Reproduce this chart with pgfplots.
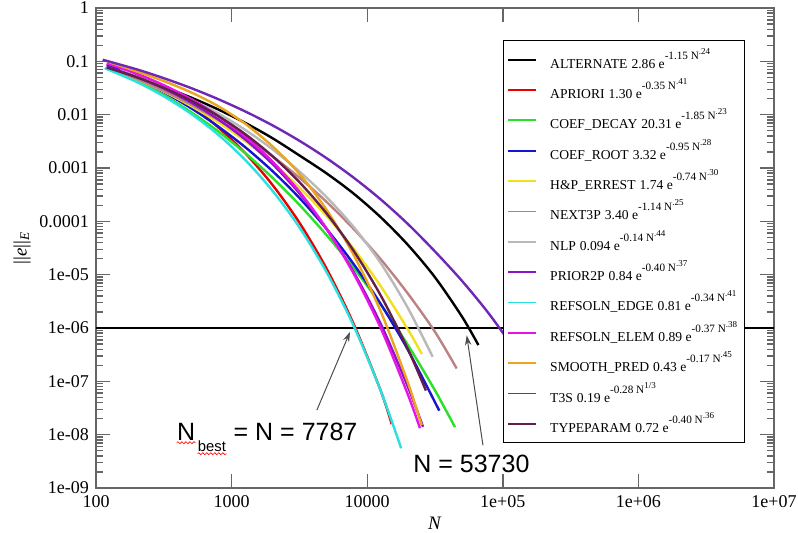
\documentclass[border=0pt]{standalone}
\usepackage{fontspec}
\setmainfont{Liberation Serif}
\newfontfamily\arial{Liberation Sans}
\usepackage{pgfplots}
\pgfplotsset{compat=1.18}
\usetikzlibrary{arrows.meta,decorations.pathmorphing}
\definecolor{cALT}{RGB}{0,0,0}
\definecolor{cAPR}{RGB}{235,0,0}
\definecolor{cCD}{RGB}{40,225,40}
\definecolor{cCR}{RGB}{20,20,210}
\definecolor{cHP}{RGB}{240,225,30}
\definecolor{cN3P}{RGB}{188,130,130}
\definecolor{cNLP}{RGB}{185,185,185}
\definecolor{cP2P}{RGB}{140,20,200}
\definecolor{cRE}{RGB}{40,225,225}
\definecolor{cRL}{RGB}{230,20,230}
\definecolor{cSP}{RGB}{235,165,30}
\definecolor{cT3S}{RGB}{110,40,180}
\definecolor{cTP}{RGB}{100,30,75}
\newcommand{\ent}[4]{#1\hspace{2pt}#2 e\raisebox{4.5pt}{\fontsize{5.6}{6}\selectfont #3 N\raisebox{2.5pt}{\fontsize{4.5}{5}\selectfont #4}}}
\begin{document}
\begin{tikzpicture}
\path[use as bounding box] (-48pt,-22.5pt) rectangle (351pt,244pt);
\begin{axis}[
  scale only axis, width=339pt, height=240pt,
  at={(0,0)}, anchor=south west,
  clip mode=individual,
  xmode=log, ymode=log,
  xmin=100, xmax=1e7, ymin=1e-9, ymax=1,
  xtick={100,1000,10000,100000,1000000,10000000},
  xticklabels={100,1000,10000,1e+05,1e+06,1e+07},
  ytick={1e-9,1e-8,1e-7,1e-6,1e-5,1e-4,1e-3,1e-2,1e-1,1},
  yticklabels={1e-09,1e-08,1e-07,1e-06,1e-05,0.0001,0.001,0.01,0.1,1},
  xminorticks=false,
  tick align=inside,
  major tick length=7pt, minor tick length=3.5pt,
  tick style={black!60, line width=0.7pt},
  axis line style={black!60, line width=1pt},
  ticklabel style={font=\fontsize{9}{10}\selectfont},
  xlabel={\textit{N}},
  ylabel={\textbar\textbar\textit{e}\textbar\textbar\textsubscript{\textit{E}}},
  label style={font=\fontsize{9.5}{11}\selectfont},
  xlabel style={at={(axis description cs:0.5,0)}, anchor=center, yshift=-17.5pt},
  ylabel style={at={(axis description cs:-0.109,0.5)}, anchor=center},
  legend cell align=left,
  legend style={at={(rel axis cs:0.600,0.933)}, anchor=north west, draw=black,
    line width=0.6pt, fill=white, font=\fontsize{6.8}{8}\selectfont,
    inner xsep=2pt, inner ysep=2pt,
    nodes={inner xsep=1.5pt, inner ysep=1.7pt},
    row sep=0.3pt, column sep=5pt},
  legend image code/.code={\draw[#1, line width=0.9pt] (0pt,0pt) -- (14pt,0pt);},
  every axis plot/.append style={line width=1.2pt, smooth},
]
\addplot[black, line width=0.7pt, forget plot, sharp plot] coordinates {(100,1e-6) (1e7,1e-6)};

\addplot[cALT] coordinates {(140,6.46e-2) (200,4.91e-2) (316,3.30e-2) (501,2.10e-2) (794,1.256e-2) (1259,7.03e-3) (1995,3.64e-3) (3162,1.72e-3) (5012,7.94e-4) (7943,3.31e-4) (12589,1.19e-4) (19953,3.62e-5) (31623,8.91e-6) (50119,1.62e-6) (66069,4.79e-7)};
\addlegendentry{\ent{ALTERNATE}{2.86}{-1.15}{.24}}
\addplot[cAPR] coordinates {(171,6.92e-2) (316,3.19e-2) (501,1.48e-2) (794,5.83e-3) (1259,1.90e-3) (1995,4.88e-4) (3162,9.44e-5) (5012,1.30e-5) (7943,1.19e-6) (12589,6.64e-8) (15150,1.58e-8)};
\addlegendentry{\ent{APRIORI}{1.30}{-0.35}{.41}}
\addplot[cCD] coordinates {(120,7.94e-2) (200,4.37e-2) (316,2.34e-2) (501,1.12e-2) (794,4.90e-3) (1259,1.91e-3) (1995,6.61e-4) (3162,2.04e-4) (5012,5.53e-5) (7943,1.34e-5) (12589,2.76e-6) (19953,4.79e-7) (31623,6.75e-8) (44400,1.38e-8)};
\addlegendentry{\ent{COEF\_DECAY}{20.31}{-1.85}{.23}}
\addplot[cCR] coordinates {(120,8.71e-2) (200,4.85e-2) (316,2.65e-2) (501,1.33e-2) (794,6.04e-3) (1259,2.46e-3) (1995,8.83e-4) (3162,2.75e-4) (5012,7.23e-5) (7943,1.58e-5) (12589,2.81e-6) (19953,3.89e-7) (34000,2.82e-8)};
\addlegendentry{\ent{COEF\_ROOT}{3.32}{-0.95}{.28}}
\addplot[cHP] coordinates {(120,7.74e-2) (200,4.63e-2) (316,2.71e-2) (501,1.46e-2) (794,7.21e-3) (1259,3.20e-3) (1995,1.26e-3) (3162,4.31e-4) (5012,1.26e-4) (7943,3.07e-5) (12589,6.07e-6) (19953,9.40e-7) (25300,3.24e-7)};
\addlegendentry{\ent{H\&P\_ERREST}{1.74}{-0.74}{.30}}
\addplot[cN3P] coordinates {(120,7.82e-2) (200,4.69e-2) (316,2.78e-2) (501,1.55e-2) (794,8.00e-3) (1259,3.82e-3) (1995,1.67e-3) (3162,6.59e-4) (5012,2.32e-4) (7943,7.19e-5) (12589,1.94e-5) (19953,4.42e-6) (31623,8.45e-7) (45700,1.74e-7)};
\addlegendentry{\ent{NEXT3P}{3.40}{-1.14}{.25}}
\addplot[cNLP] coordinates {(150,6.71e-2) (200,5.19e-2) (316,3.27e-2) (501,1.93e-2) (794,1.06e-2) (1259,5.19e-3) (1995,2.26e-3) (3162,8.61e-4) (5012,2.85e-4) (7943,7.85e-5) (12589,1.64e-5) (19953,2.37e-6) (30400,2.88e-7)};
\addlegendentry{\ent{NLP}{0.094}{-0.14}{.44}}
\addplot[cP2P] coordinates {(120,7.94e-2) (200,5.07e-2) (316,3.09e-2) (501,1.70e-2) (794,8.24e-3) (1259,3.44e-3) (1995,1.20e-3) (3162,3.35e-4) (5012,7.19e-5) (7943,1.12e-5) (12589,1.19e-6) (19953,7.91e-8) (25800,1.40e-8)};
\addlegendentry{\ent{PRIOR2P}{0.84}{-0.40}{.37}}
\addplot[cRE] coordinates {(116,7.45e-2) (200,4.10e-2) (316,2.21e-2) (501,1.045e-2) (794,4.24e-3) (1259,1.42e-3) (1995,3.79e-4) (3162,7.71e-5) (5012,1.12e-5) (7943,1.10e-6) (12589,6.65e-8) (17800,5.56e-9)};
\addlegendentry{\ent{REFSOLN\_EDGE}{0.81}{-0.34}{.41}}
\addplot[cRL] coordinates {(120,9.12e-2) (200,5.86e-2) (316,3.57e-2) (501,1.97e-2) (794,9.48e-3) (1259,3.92e-3) (1995,1.33e-3) (3162,3.60e-4) (5012,7.31e-5) (7943,1.05e-5) (12589,9.95e-7) (19953,5.66e-8) (24500,1.32e-8)};
\addlegendentry{\ent{REFSOLN\_ELEM}{0.89}{-0.37}{.38}}
\addplot[cSP] coordinates {(120,1.0e-1) (200,6.46e-2) (316,4.27e-2) (501,2.63e-2) (794,1.45e-2) (1259,6.76e-3) (1995,2.57e-3) (3162,7.78e-4) (5012,1.65e-4) (7943,2.35e-5) (12589,2.04e-6) (19953,9.46e-8) (25200,1.50e-8)};
\addlegendentry{\ent{SMOOTH\_PRED}{0.43}{-0.17}{.45}}
\addplot[cT3S] coordinates {(112,1.07e-1) (200,7.06e-2) (316,4.83e-2) (501,3.16e-2) (794,1.96e-2) (1259,1.15e-2) (1995,6.34e-3) (3162,3.24e-3) (5012,1.53e-3) (7943,6.59e-4) (12589,2.57e-4) (19953,8.91e-5) (31623,2.72e-5) (50119,7.59e-6) (79433,1.82e-6) (125893,3.55e-7) (158489,1.41e-7)};
\addlegendentry{\ent{T3S}{0.19}{-0.28}{1/3}}
\addplot[cTP] coordinates {(120,7.66e-2) (200,5.02e-2) (316,3.18e-2) (501,1.83e-2) (794,9.48e-3) (1259,4.32e-3) (1995,1.68e-3) (3162,5.44e-4) (5012,1.41e-4) (7943,2.81e-5) (12589,4.06e-6) (19953,4.02e-7) (27100,6.71e-8)};
\addlegendentry{\ent{TYPEPARAM}{0.72}{-0.40}{.36}}

\draw[black!70, line width=0.5pt, -{Stealth[length=5pt,width=3.2pt]}] (axis cs:4250,2.87e-8) -- (axis cs:7470,8.45e-7);
\draw[black!70, line width=0.5pt, -{Stealth[length=5pt,width=3.2pt]}] (axis cs:71400,6.3e-9) -- (axis cs:54200,7.3e-7);

\node[anchor=base west, inner sep=0pt, font=\arial\fontsize{12.5}{14}\selectfont] (nb) at (axis cs:394,7.85e-9) {N};
\node[anchor=base west, inner sep=0pt, font=\arial\fontsize{7.4}{8}\selectfont] (best) at ([xshift=1pt,yshift=-5.5pt]nb.base east) {best};
\node[anchor=base west, inner sep=0pt, font=\arial\fontsize{12.5}{14}\selectfont] at (best.base east |- nb.base) {\ = N = 7787};
\draw[red, line width=0.3pt, decorate, decoration={snake, amplitude=0.5pt, segment length=2pt}] ([yshift=-1.2pt]nb.base west) -- ([yshift=-1.2pt]nb.base east);
\draw[red, line width=0.3pt, decorate, decoration={snake, amplitude=0.5pt, segment length=2pt}] ([yshift=-1.2pt]best.base west) -- ([yshift=-1.2pt]best.base east);
\node[anchor=base west, inner sep=0pt, font=\arial\fontsize{12.5}{14}\selectfont] at (axis cs:21770,1.97e-9) {N = 53730};
\end{axis}
\end{tikzpicture}
\end{document}
